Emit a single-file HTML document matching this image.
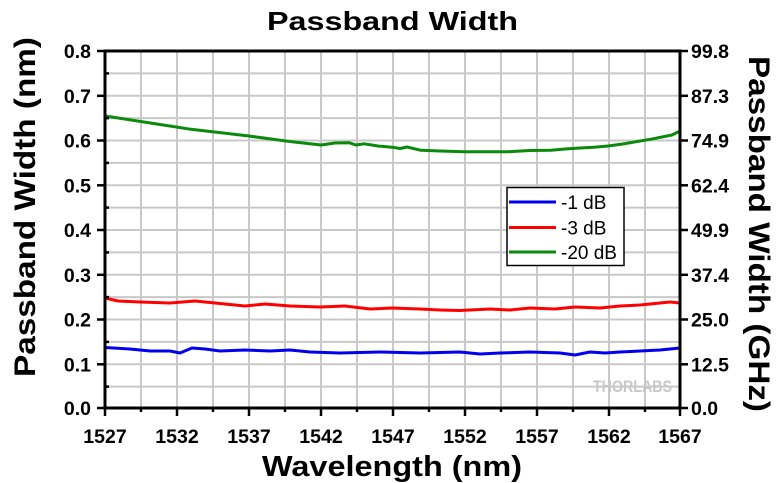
<!DOCTYPE html>
<html><head><style>body{margin:0;background:#fff}svg{display:block}</style></head><body>
<svg width="780" height="483" xmlns="http://www.w3.org/2000/svg" font-family="Liberation Sans, Arial, sans-serif">
<g stroke="#c8c8c8" stroke-width="2">
<line x1="141" y1="51" x2="141" y2="408"/><line x1="177" y1="51" x2="177" y2="408"/><line x1="213" y1="51" x2="213" y2="408"/><line x1="249" y1="51" x2="249" y2="408"/><line x1="285" y1="51" x2="285" y2="408"/><line x1="321" y1="51" x2="321" y2="408"/><line x1="357" y1="51" x2="357" y2="408"/><line x1="393" y1="51" x2="393" y2="408"/><line x1="429" y1="51" x2="429" y2="408"/><line x1="465" y1="51" x2="465" y2="408"/><line x1="501" y1="51" x2="501" y2="408"/><line x1="537" y1="51" x2="537" y2="408"/><line x1="573" y1="51" x2="573" y2="408"/><line x1="609" y1="51" x2="609" y2="408"/><line x1="645" y1="51" x2="645" y2="408"/>
<line x1="105" y1="73.4" x2="680" y2="73.4"/><line x1="105" y1="95.8" x2="680" y2="95.8"/><line x1="105" y1="118.1" x2="680" y2="118.1"/><line x1="105" y1="140.5" x2="680" y2="140.5"/><line x1="105" y1="162.9" x2="680" y2="162.9"/><line x1="105" y1="185.3" x2="680" y2="185.3"/><line x1="105" y1="207.6" x2="680" y2="207.6"/><line x1="105" y1="230" x2="680" y2="230"/><line x1="105" y1="252.4" x2="680" y2="252.4"/><line x1="105" y1="274.8" x2="680" y2="274.8"/><line x1="105" y1="297.1" x2="680" y2="297.1"/><line x1="105" y1="319.5" x2="680" y2="319.5"/><line x1="105" y1="341.9" x2="680" y2="341.9"/><line x1="105" y1="364.3" x2="680" y2="364.3"/><line x1="105" y1="386.6" x2="680" y2="386.6"/>
</g>
<text x="593" y="392" font-size="17" font-weight="bold" fill="#c8c8c8" textLength="79" lengthAdjust="spacingAndGlyphs">THORLABS</text>
<g fill="none" stroke-width="3" stroke-linejoin="round">
<polyline stroke="#0a8a0a" points="105,116 148,122.6 191,129.3 249,136 292,141.8 321,145 335,143 349,142.7 356,145 364,143.8 378,146 392,147.2 400,148.5 407,147 421,150.3 440,151 464,151.7 508,151.7 530,150.5 551,150.3 565,149 580,148 594,147.2 608,146 622,144.1 651,139.2 672,135 680,131"/>
<polyline stroke="#ff0000" points="105,298 118,301 140,302 170,303 195,301 215,303 245,306 265,304 290,306 320,307 345,306 370,309 392,308 420,309 440,310 460,310.5 490,309 510,310 530,308 555,309 575,307 600,308 620,306 640,305 660,303 670,302 680,303"/>
<polyline stroke="#0000ee" points="105,347.5 130,349 150,351 170,351 180,353 192,348 205,349 220,351 245,350 270,351 290,350 310,352 340,353 380,352 420,353 460,352 480,354 500,353 530,352 560,353 575,355 590,352 605,353 620,352 640,351 660,350 680,348"/>
</g>
<g stroke="#000" stroke-width="3" fill="none">
<line x1="105" y1="50" x2="105" y2="409.5"/><line x1="680" y1="50" x2="680" y2="409.5"/><line x1="103.5" y1="51" x2="681.5" y2="51"/><line x1="103.5" y1="408" x2="681.5" y2="408"/>
</g>
<g stroke="#000" stroke-width="2.5">
<line x1="97" y1="51" x2="105" y2="51"/><line x1="97" y1="95.8" x2="105" y2="95.8"/><line x1="97" y1="140.5" x2="105" y2="140.5"/><line x1="97" y1="185.3" x2="105" y2="185.3"/><line x1="97" y1="230" x2="105" y2="230"/><line x1="97" y1="274.8" x2="105" y2="274.8"/><line x1="97" y1="319.5" x2="105" y2="319.5"/><line x1="97" y1="364.3" x2="105" y2="364.3"/><line x1="97" y1="408" x2="105" y2="408"/>
<line x1="105" y1="73.4" x2="109" y2="73.4"/><line x1="105" y1="118.1" x2="109" y2="118.1"/><line x1="105" y1="162.9" x2="109" y2="162.9"/><line x1="105" y1="207.6" x2="109" y2="207.6"/><line x1="105" y1="252.4" x2="109" y2="252.4"/><line x1="105" y1="297.1" x2="109" y2="297.1"/><line x1="105" y1="341.9" x2="109" y2="341.9"/><line x1="105" y1="386.6" x2="109" y2="386.6"/>
<line x1="680" y1="51" x2="688" y2="51"/><line x1="680" y1="95.8" x2="688" y2="95.8"/><line x1="680" y1="140.5" x2="688" y2="140.5"/><line x1="680" y1="185.3" x2="688" y2="185.3"/><line x1="680" y1="230" x2="688" y2="230"/><line x1="680" y1="274.8" x2="688" y2="274.8"/><line x1="680" y1="319.5" x2="688" y2="319.5"/><line x1="680" y1="364.3" x2="688" y2="364.3"/><line x1="680" y1="408" x2="688" y2="408"/>
<line x1="105" y1="408" x2="105" y2="416"/><line x1="177" y1="408" x2="177" y2="416"/><line x1="249" y1="408" x2="249" y2="416"/><line x1="321" y1="408" x2="321" y2="416"/><line x1="393" y1="408" x2="393" y2="416"/><line x1="465" y1="408" x2="465" y2="416"/><line x1="537" y1="408" x2="537" y2="416"/><line x1="609" y1="408" x2="609" y2="416"/><line x1="680" y1="408" x2="680" y2="416"/>
<line x1="141" y1="408" x2="141" y2="412"/><line x1="213" y1="408" x2="213" y2="412"/><line x1="285" y1="408" x2="285" y2="412"/><line x1="357" y1="408" x2="357" y2="412"/><line x1="429" y1="408" x2="429" y2="412"/><line x1="501" y1="408" x2="501" y2="412"/><line x1="573" y1="408" x2="573" y2="412"/><line x1="645" y1="408" x2="645" y2="412"/>
</g>
<g font-size="19.5" font-weight="bold" fill="#000" text-anchor="end">
<text x="91" y="58">0.8</text><text x="91" y="102.8">0.7</text><text x="91" y="147.5">0.6</text><text x="91" y="192.3">0.5</text><text x="91" y="237">0.4</text><text x="91" y="281.8">0.3</text><text x="91" y="326.5">0.2</text><text x="91" y="371.3">0.1</text><text x="91" y="415">0.0</text>
</g>
<g font-size="19.5" font-weight="bold" fill="#000" text-anchor="start">
<text x="691" y="58">99.8</text><text x="691" y="102.8">87.3</text><text x="691" y="147.5">74.9</text><text x="691" y="192.3">62.4</text><text x="691" y="237">49.9</text><text x="691" y="281.8">37.4</text><text x="691" y="326.5">25.0</text><text x="691" y="371.3">12.5</text><text x="691" y="415">0.0</text>
</g>
<g font-size="19.5" font-weight="bold" fill="#000" text-anchor="middle">
<text x="105" y="443">1527</text><text x="177" y="443">1532</text><text x="249" y="443">1537</text><text x="321" y="443">1542</text><text x="393" y="443">1547</text><text x="465" y="443">1552</text><text x="537" y="443">1557</text><text x="609" y="443">1562</text><text x="680" y="443">1567</text>
</g>
<text x="267" y="30" font-size="26" font-weight="bold" textLength="251" lengthAdjust="spacingAndGlyphs">Passband Width</text>
<text x="262" y="476" font-size="29" font-weight="bold" textLength="260" lengthAdjust="spacingAndGlyphs">Wavelength (nm)</text>
<text transform="translate(35,377) rotate(-90)" font-size="30" font-weight="bold" textLength="340" lengthAdjust="spacingAndGlyphs">Passband Width (nm)</text>
<text transform="translate(749,56) rotate(90)" font-size="30" font-weight="bold" textLength="356" lengthAdjust="spacingAndGlyphs">Passband Width (GHz)</text>
<rect x="507" y="187.5" width="117" height="78" fill="#fff" stroke="#000" stroke-width="1.5"/>
<g stroke-width="3"><line x1="509" y1="202" x2="556" y2="202" stroke="#0000ee"/><line x1="509" y1="227.5" x2="556" y2="227.5" stroke="#ff0000"/><line x1="509" y1="252" x2="556" y2="252" stroke="#0a8a0a"/></g>
<g font-size="19" fill="#000"><text x="561" y="209">-1 dB</text><text x="561" y="234.5">-3 dB</text><text x="561" y="259">-20 dB</text></g>
</svg>
</body></html>
